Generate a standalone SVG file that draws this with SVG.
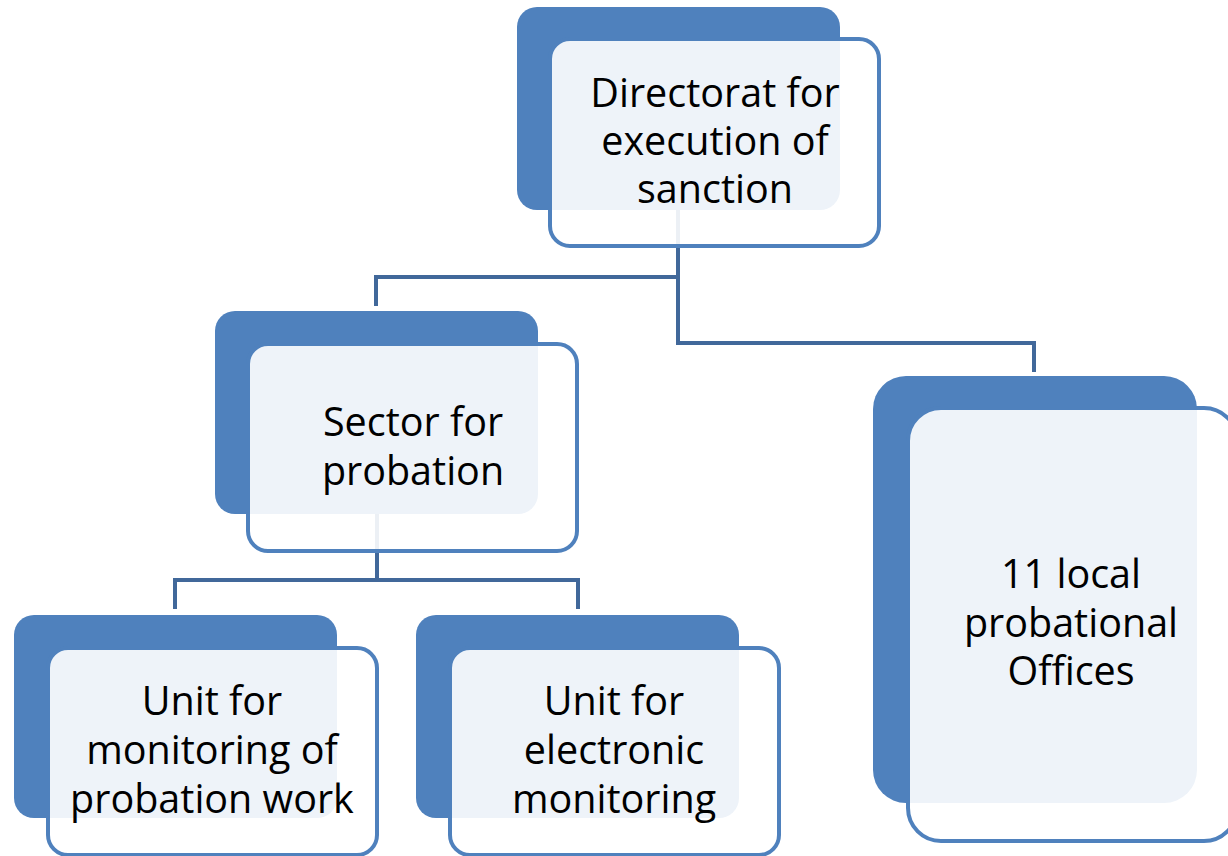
<svg xmlns="http://www.w3.org/2000/svg" width="1228" height="856" viewBox="0 0 1228 856">
<style>
.back{fill:#4F81BD;}
.front{fill:#FFFFFF;fill-opacity:0.9;stroke:#4F81BD;stroke-width:4;}
.conn{fill:none;stroke:#41689A;stroke-width:4;stroke-linejoin:miter;}
.lbl{font-family:"Open Sans","Liberation Sans",Arial,sans-serif;font-size:39.5px;fill:#000;text-anchor:middle;}
</style>
<rect width="1228" height="856" fill="#FFFFFF"/>
<g id="connectors">
<path class="conn" d="M678,150 V343 H1034 V372"/>
<path class="conn" d="M678,277 H376 V306"/>
<path class="conn" d="M377,450 V580"/>
<path class="conn" d="M175,609 V580 H578 V609"/>
</g>
<g id="node-directorat">
<rect class="back" x="517" y="7" width="323" height="203" rx="20" ry="20"/>
<rect class="front" x="550" y="39" width="329" height="207" rx="20" ry="20"/>
<text class="lbl" x="715" y="107">Directorat for</text>
<text class="lbl" x="715" y="155">execution of</text>
<text class="lbl" x="715" y="203">sanction</text>
</g>
<g id="node-sector">
<rect class="back" x="215" y="311" width="323" height="203" rx="20" ry="20"/>
<rect class="front" x="248" y="344" width="329" height="207" rx="20" ry="20"/>
<text class="lbl" x="413" y="436">Sector for</text>
<text class="lbl" x="413" y="485">probation</text>
</g>
<g id="node-local-offices">
<rect class="back" x="873" y="376" width="324" height="427" rx="33" ry="33"/>
<rect class="front" x="908" y="408" width="329" height="433" rx="33" ry="33"/>
<text class="lbl" x="1071" y="588">11 local</text>
<text class="lbl" x="1071" y="637">probational</text>
<text class="lbl" x="1071" y="685">Offices</text>
</g>
<g id="node-unit-monitoring">
<rect class="back" x="14" y="615" width="323" height="203" rx="20" ry="20"/>
<rect class="front" x="48" y="648" width="329" height="207" rx="20" ry="20"/>
<text class="lbl" x="212" y="715">Unit for</text>
<text class="lbl" x="212" y="764">monitoring of</text>
<text class="lbl" x="212" y="813">probation work</text>
</g>
<g id="node-unit-electronic">
<rect class="back" x="416" y="615" width="323" height="203" rx="20" ry="20"/>
<rect class="front" x="450" y="648" width="329" height="207" rx="20" ry="20"/>
<text class="lbl" x="614" y="715">Unit for</text>
<text class="lbl" x="614" y="764">electronic</text>
<text class="lbl" x="614" y="813">monitoring</text>
</g>
</svg>
